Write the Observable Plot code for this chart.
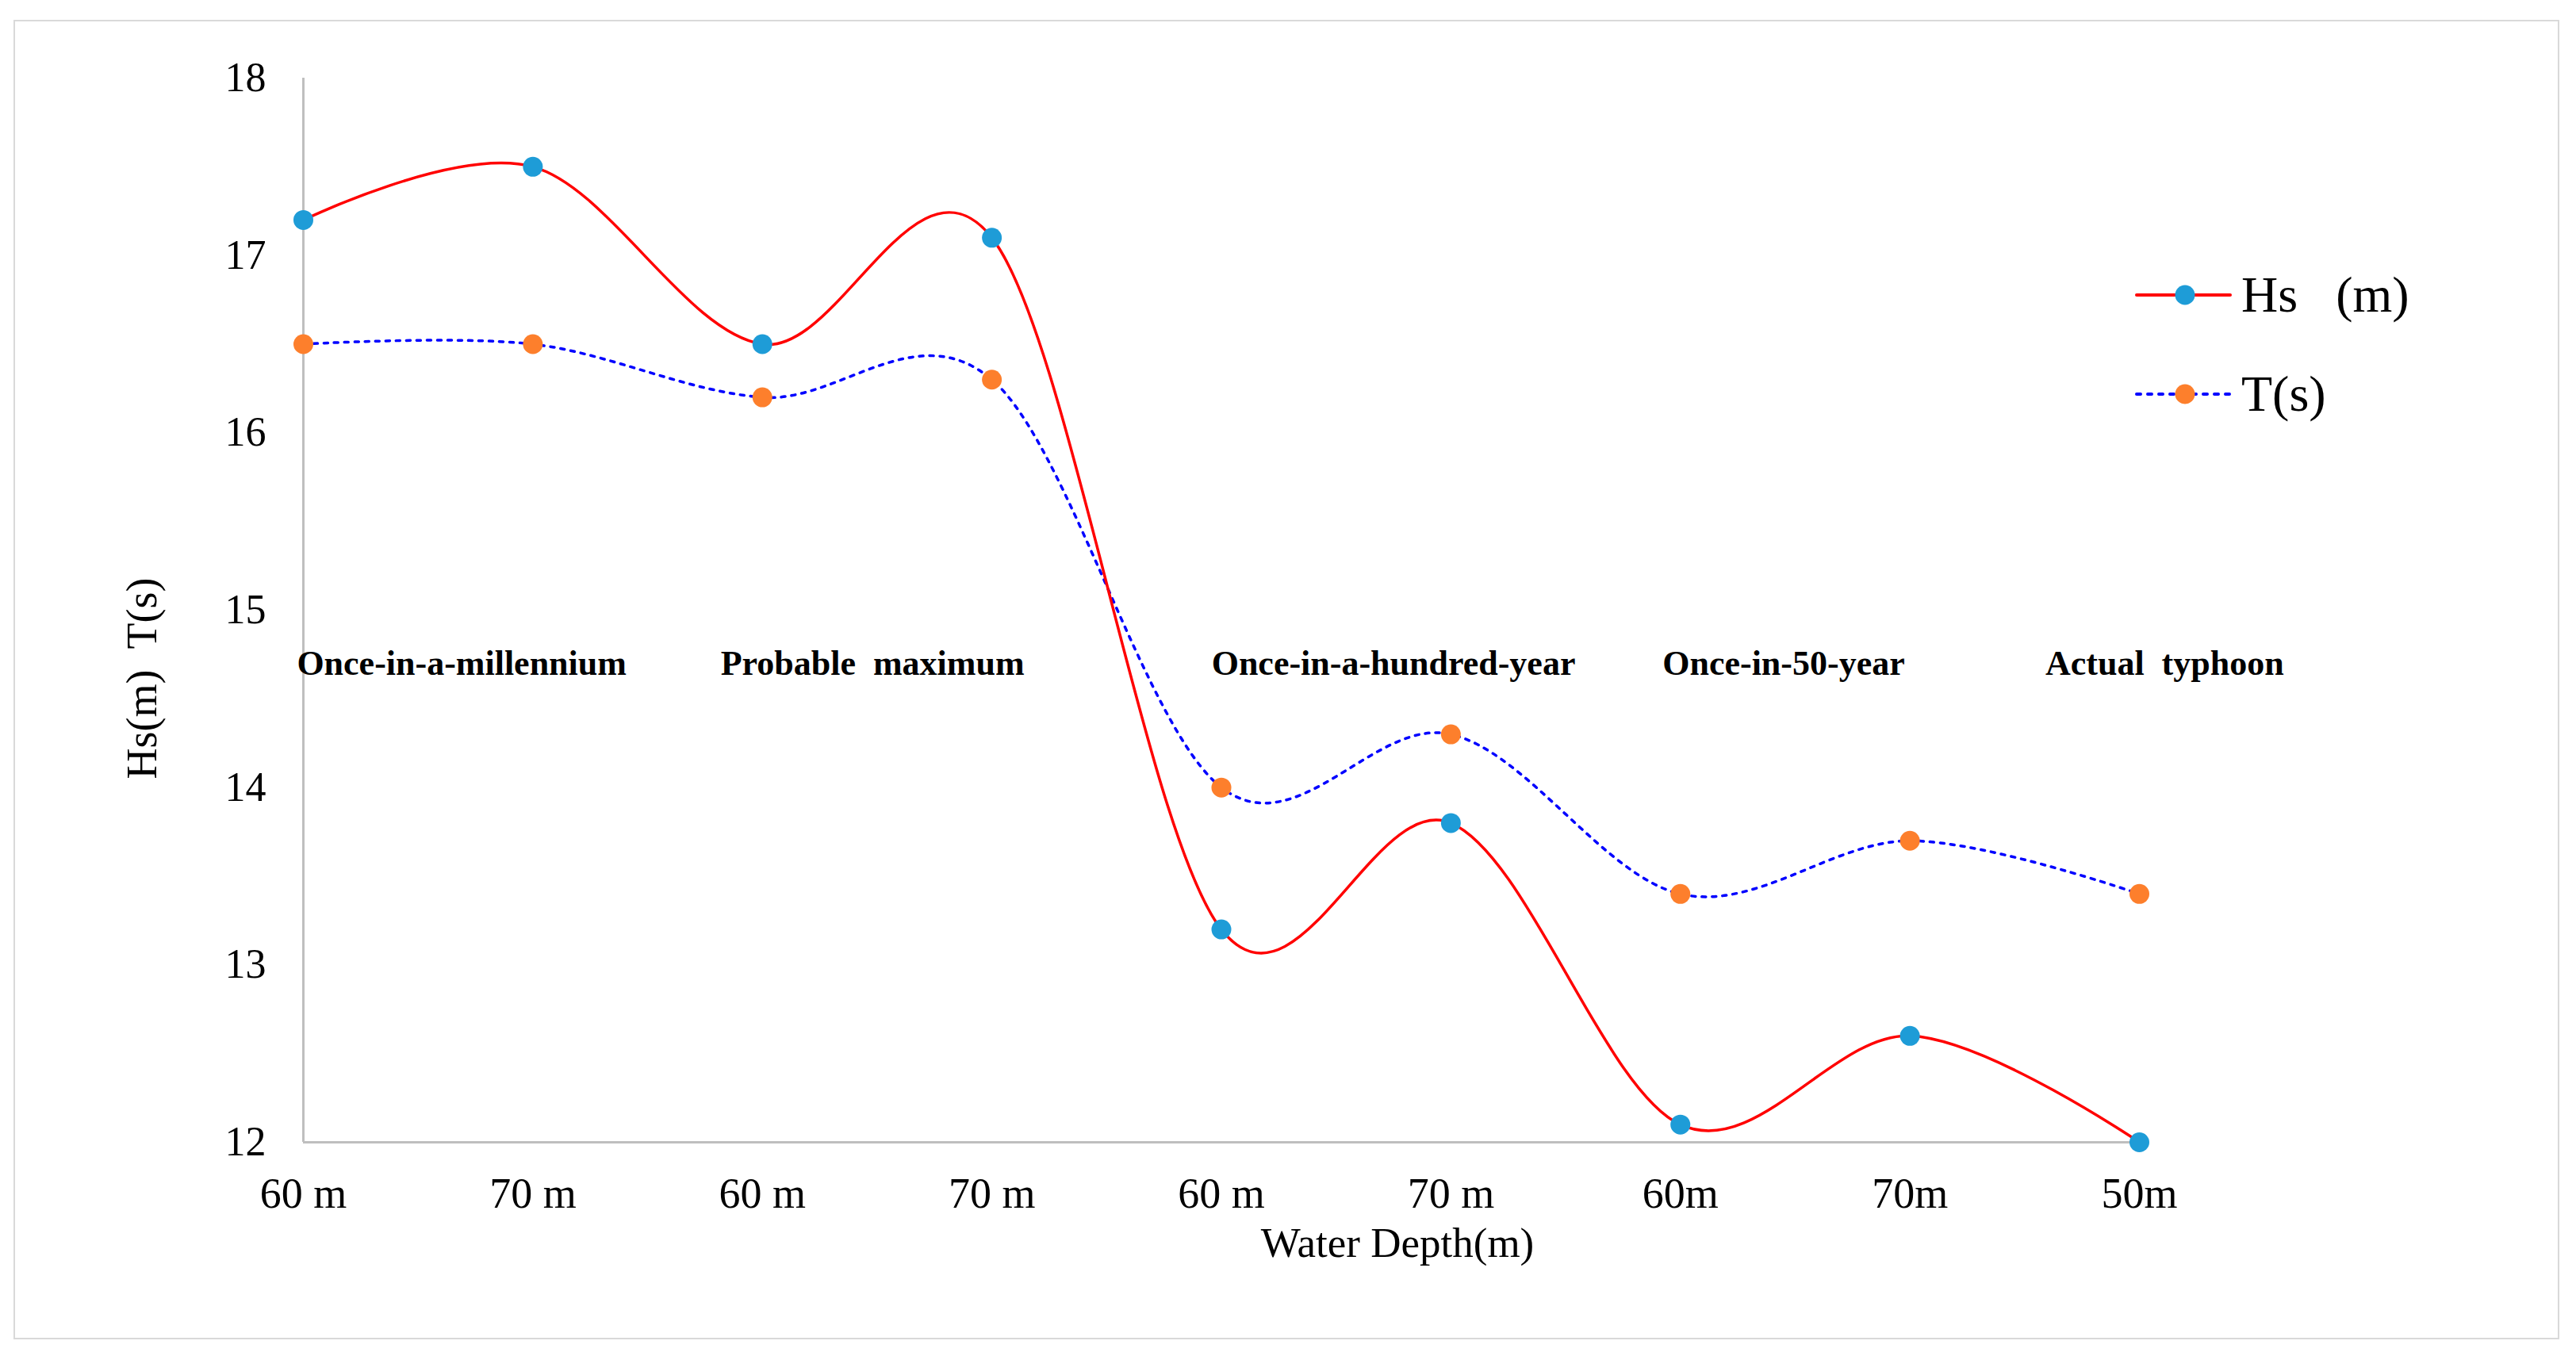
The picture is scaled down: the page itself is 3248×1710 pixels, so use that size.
<!DOCTYPE html>
<html>
<head>
<meta charset="utf-8">
<script src="https://cdn.jsdelivr.net/npm/d3@7"></script>
<script src="https://cdn.jsdelivr.net/npm/@observablehq/plot@0.6"></script>
<style>
  html, body { margin: 0; padding: 0; background: #ffffff; }
  #wrap { position: relative; width: 3248px; height: 1710px; overflow: hidden; background: #fff; }
  #frame { position: absolute; left: 17px; top: 25px; width: 3206px; height: 1660px; border: 2.5px solid #d9d9d9; box-sizing: content-box; pointer-events: none; }
  #chart { position: absolute; left: 0; top: 0; }
  svg text { white-space: pre; }
</style>
</head>
<body>
<div id="wrap">
  <div id="chart"></div>
  <div id="frame"></div>
</div>
<script>
// ---- data ----
const depthLabels = ["60 m", "70 m", "60 m", "70 m", "60 m", "70 m", "60m", "70m", "50m"];
const hsValues = [17.2, 17.5, 16.5, 17.1, 13.2, 13.8, 12.1, 12.6, 12.0];
const tValues  = [16.5, 16.5, 16.2, 16.3, 14.0, 14.3, 13.4, 13.7, 13.4];
const groupLabels = ["Once-in-a-millennium", "Probable  maximum", "Once-in-a-hundred-year", "Once-in-50-year", "Actual  typhoon"];
// where each scenario label sits along the category axis (category index units)
const groupCenters = [0.69, 2.48, 4.75, 6.45, 8.11];
const groupLevel = 14.7;
const yTicks = [12, 13, 14, 15, 16, 17, 18];
const seriesNames = ["Hs\u00a0\u00a0\u00a0(m)", "T(s)"];
const yLabel = "Hs(m)  T(s)";
const xLabel = "Water Depth(m)";

// ---- tables built from arrays ----
const rows = depthLabels.map((d, i) => ({i, label: d, hs: hsValues[i], t: tValues[i]}));
const groups = groupLabels.map((g, k) => ({label: g, x: groupCenters[k], y: groupLevel}));

const FONT = "'Liberation Serif', 'Times New Roman', Times, serif";
const RED = "#ff0000", BLUE = "#0000ff", MBLUE = "#1e9cd7", MORANGE = "#fd7f2c", AXIS = "#bfbfbf";

// legend drawn as a custom mark (positions in px within svg)
function legendMark() {
  const g = d3.create("svg:g");
  const items = [
    {name: seriesNames[0], stroke: RED, dash: null, fill: MBLUE, y: 372},
    {name: seriesNames[1], stroke: BLUE, dash: "5,9", fill: MORANGE, y: 497}
  ];
  for (const it of items) {
    g.append("line").attr("x1", 2694).attr("x2", 2812).attr("y1", it.y).attr("y2", it.y)
      .attr("stroke", it.stroke).attr("stroke-width", 4).attr("stroke-linecap", "round")
      .attr("stroke-dasharray", it.dash);
    g.append("circle").attr("cx", 2755).attr("cy", it.y).attr("r", 12.5).attr("fill", it.fill);
    g.append("text").attr("x", 2826).attr("y", it.y + 21).attr("font-size", 64)
      .attr("text-anchor", "start")
      .attr("font-family", FONT).attr("fill", "#000").text(it.name);
  }
  return g.node();
}

const chart = Plot.plot({
  width: 3248,
  height: 1710,
  marginLeft: 382,
  marginRight: 551,
  marginTop: 98,
  marginBottom: 270,
  style: {fontFamily: FONT, fontSize: "52px", color: "#000", background: "transparent"},
  x: {type: "linear", domain: [0, 8], axis: null},
  y: {domain: [12, 18], axis: null},
  marks: [
    Plot.ruleX([0], {y1: 12, y2: 18, stroke: AXIS, strokeWidth: 3}),
    Plot.ruleY([12], {x1: 0, x2: 8, stroke: AXIS, strokeWidth: 3}),
    Plot.axisY({ticks: yTicks, tickSize: 0, tickPadding: 47, fontSize: 52, label: null, tickFormat: d => String(d)}),
    Plot.axisX({ticks: d3.range(depthLabels.length), tickSize: 0, tickPadding: 44, fontSize: 54, label: null, tickFormat: i => depthLabels[i]}),
    Plot.text(groups, {x: "x", y: "y", text: "label", fontSize: 44, fontWeight: "bold", textAnchor: "middle", lineAnchor: "middle"}),
    Plot.line(rows, {x: "i", y: "t", stroke: BLUE, strokeWidth: 3.5, strokeDasharray: "5,8", strokeLinecap: "round", curve: "cardinal"}),
    Plot.line(rows, {x: "i", y: "hs", stroke: RED, strokeWidth: 3.5, curve: "cardinal"}),
    Plot.dot(rows, {x: "i", y: "t", r: 12.5, fill: MORANGE, stroke: "none"}),
    Plot.dot(rows, {x: "i", y: "hs", r: 12.5, fill: MBLUE, stroke: "none"}),
    Plot.text([yLabel], {frameAnchor: "left", dx: -203, dy: 86, rotate: -90, fontSize: 54, textAnchor: "middle", lineAnchor: "middle"}),
    Plot.text([xLabel], {frameAnchor: "bottom", dx: 222, dy: 128, fontSize: 53, textAnchor: "middle", lineAnchor: "middle"}),
    legendMark
  ]
});
document.getElementById("chart").appendChild(chart);
</script>
</body>
</html>
